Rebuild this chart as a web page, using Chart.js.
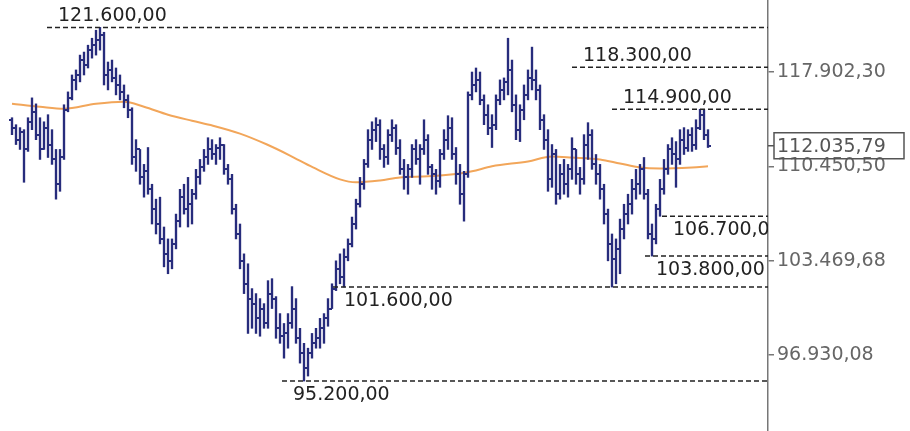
<!DOCTYPE html>
<html>
<head>
<meta charset="utf-8">
<script src="https://cdn.jsdelivr.net/npm/chart.js@4.4.1/dist/chart.umd.min.js"></script>
<style>
  html, body { margin: 0; padding: 0; background: #fff; }
  #wrap { width: 910px; height: 431px; }
</style>
</head>
<body>
<div id="wrap"><canvas id="chart"></canvas></div>
<script>
// Datos OHLC (una barra por sesión)
const opens = [
  114070, 113450, 112510, 113130, 111750, 113910, 114700, 112900, 111750, 113450,
  112130, 110980, 109090, 111130, 114860, 115810, 117260, 117660, 118880, 118470,
  119700, 120110, 120530, 120940, 117660, 118070, 117420, 116850, 116290, 115650,
  114860, 111130, 111750, 109610, 110070, 108710, 107230, 106130, 105040, 103960,
  103460, 104680, 106340, 108120, 107230, 107590, 108340, 109610, 110370, 111130,
  111750, 111360, 111900, 112130, 110220, 109460, 107230, 105400, 103460, 101830,
  100790, 100440, 99420, 100100, 99070, 101140, 100790, 98740, 98200, 98390,
  99070, 100100, 98060, 97050, 96060, 97050, 97720, 98060, 98740, 99420,
  100100, 101490, 102890, 102330, 103740, 104680, 106130, 107590, 109090, 110600,
  112510, 113290, 113680, 111750, 111130, 112900, 113450, 111900, 110220, 109610,
  110220, 111750, 110980, 111750, 112510, 110370, 109840, 109310, 111360, 112510,
  113450, 111360, 109840, 108340, 109840, 116050, 116850, 117260, 115650, 114470,
  113450, 113680, 115650, 116450, 117100, 118070, 115260, 113290, 114860, 116050,
  117420, 117260, 116450, 114070, 112510, 109460, 111360, 108340, 109840, 109090,
  110220, 111750, 109840, 109460, 112130, 112900, 110600, 109840, 108710, 106860,
  104680, 103600, 104320, 105760, 106860, 107590, 108710, 109090, 110220, 108340,
  105400, 105040, 107230, 108710, 110220, 111750, 111360, 110980, 112510, 111900,
  112900, 112130, 113450, 114470, 112900
];
const highs = [
  114230, 113680, 113450, 113290, 114230, 115810, 115330, 114230, 113910, 114470,
  113290, 111750, 111750, 115260, 116290, 117660, 118070, 119290, 119540, 120110,
  120690, 121360, 121600, 121190, 118720, 118880, 118230, 117660, 116850, 116050,
  115020, 112510, 111750, 110600, 111900, 109090, 107970, 108120, 105910, 105040,
  105040, 106860, 108710, 109090, 109610, 108710, 110220, 110980, 111750, 112660,
  112510, 112130, 112660, 112130, 110600, 109840, 107590, 106130, 103960, 103250,
  101490, 101140, 100790, 100440, 102050, 102190, 100930, 99750, 99070, 99750,
  101630, 100790, 98740, 97720, 97390, 98390, 98740, 99420, 99750, 100790,
  101830, 103460, 103960, 104320, 105040, 106640, 107970, 109610, 110980, 113290,
  113910, 114230, 114070, 112130, 113290, 114070, 113680, 112510, 110980, 110600,
  112130, 112510, 112130, 114070, 112900, 110600, 110220, 111750, 113290, 114390,
  114230, 111900, 110600, 110070, 116290, 117900, 118230, 117900, 116050, 115260,
  114470, 116050, 117260, 117420, 120690, 118880, 116050, 115260, 116850, 118070,
  119950, 118070, 116850, 114470, 113290, 112130, 111750, 110600, 110980, 110600,
  112660, 111750, 110370, 112900, 113840, 113290, 111360, 110600, 109090, 107230,
  105400, 105040, 106490, 107590, 108340, 109460, 110220, 110600, 111130, 108710,
  106130, 107590, 109460, 110980, 112130, 112660, 112360, 113290, 113450, 113290,
  113450, 114070, 114900, 114860, 113290
];
const lows = [
  112900, 112130, 111750, 109240, 111600, 113290, 112510, 110980, 111750, 111130,
  110600, 107970, 108560, 110980, 114700, 115650, 116450, 117100, 117660, 118230,
  119040, 119290, 119700, 116850, 116450, 117100, 116050, 115650, 115020, 114230,
  110600, 110070, 109090, 108120, 108340, 106130, 105400, 104680, 103030, 102540,
  102890, 104320, 105910, 106860, 105910, 106130, 107970, 109090, 110070, 110600,
  110980, 110600, 110980, 109840, 109090, 106860, 105040, 102890, 101140, 98390,
  98740, 98390, 98200, 98740, 98740, 100100, 98060, 97720, 96720, 97390,
  98740, 97720, 96390, 95200, 95530, 96720, 97390, 97390, 97720, 98880,
  100100, 101350, 101830, 101600, 103460, 104460, 105760, 107380, 108710, 110370,
  111750, 112360, 110980, 110370, 110600, 112360, 111360, 109840, 108710, 108340,
  109610, 110600, 109090, 111360, 109840, 108710, 108340, 108860, 110980, 111750,
  110980, 109090, 107590, 106340, 109610, 115650, 116290, 115260, 113680, 112900,
  111900, 113290, 115260, 115650, 116050, 114700, 112510, 112360, 114070, 115650,
  116450, 115650, 113290, 111750, 108560, 108860, 107590, 107970, 108340, 108120,
  109460, 109090, 108340, 109090, 110980, 110220, 109090, 107970, 106130, 103460,
  101600, 101830, 102540, 105040, 106130, 106860, 107970, 108340, 107970, 105040,
  103800, 104680, 106700, 108340, 109840, 110600, 108860, 110600, 111360, 111600,
  111600, 111750, 113290, 112510, 111900
];
const closes = [
  113450, 112510, 113130, 111750, 113910, 114700, 112900, 111750, 113450, 112130,
  110980, 109090, 111130, 114860, 115810, 117260, 117660, 118880, 118470, 119700,
  120110, 120530, 120940, 117660, 118070, 117420, 116850, 116290, 115650, 114860,
  111130, 111750, 109610, 110070, 108710, 107230, 106130, 105040, 103960, 103460,
  104680, 106340, 108120, 107230, 107590, 108340, 109610, 110370, 111130, 111750,
  111360, 111900, 112130, 110220, 109460, 107230, 105400, 103460, 101830, 100790,
  100440, 99420, 100100, 99070, 101140, 100790, 98740, 98200, 98390, 99070,
  100100, 98060, 97050, 96060, 97050, 97720, 98060, 98740, 99420, 100100,
  101490, 102890, 102330, 103740, 104680, 106130, 107590, 109090, 110600, 112510,
  113290, 113680, 111750, 111130, 112900, 113450, 111900, 110220, 109610, 110220,
  111750, 110980, 111750, 112510, 110370, 109840, 109310, 111360, 112510, 113450,
  111360, 109840, 108340, 109840, 116050, 116850, 117260, 115650, 114470, 113450,
  113680, 115650, 116450, 117100, 118070, 115260, 113290, 114860, 116050, 117420,
  117260, 116450, 114070, 112510, 109460, 111360, 108340, 109840, 109090, 110220,
  111750, 109840, 109460, 112130, 112900, 110600, 109840, 108710, 106860, 104680,
  103600, 104320, 105760, 106860, 107590, 108710, 109090, 110220, 108340, 105400,
  105040, 107230, 108710, 110220, 111750, 111360, 110980, 112510, 111900, 112900,
  112130, 113450, 114470, 112900, 112035.79
];

// Media móvil (barra, valor)
const maIndex = [0, 7, 13, 21, 28, 33, 39, 45, 50.25, 57, 63.75, 69.5, 75.25, 82,
  86, 92, 97, 104, 112, 115, 120, 129, 135, 140, 147, 152, 157, 162, 170, 174];
const maValue = [115340, 115100, 114940, 115340, 115500, 115100, 114470, 113990,
  113600, 112980, 112130, 111280, 110370, 109460, 109240, 109380, 109610, 109690,
  109910, 110070, 110450, 110830, 111210, 111130, 110980, 110670, 110370, 110290,
  110370, 110450];

// Soportes / resistencias y barra donde empiezan
const levels = [121600, 118300, 114900, 106700, 103800, 101600, 95200];
const levelFrom = [8.75, 140, 150, 162.5, 158.25, 80.25, 67.5];

// Marcas del eje de precios
const tickValues = [96930.08, 103469.68, 110450.50, 117902.30];

/* ============================
        CONFIGURACIÓN
============================ */
const NAVY = '#272c7c';
const ORANGE = '#f2a65a';
const FONT = '19px "DejaVu Sans"';
const Y_MIN = 91966;
const Y_MAX = 123926;
const X_MIN = -3;
const X_MAX = 189;
const lastClose = closes[closes.length - 1];

function fmt(v) {
  const [ent, dec] = Number(v).toFixed(2).split('.');
  return ent.replace(/\B(?=(\d{3})+(?!\d))/g, '.') + ',' + dec;
}

// Marca horizontal de apertura (izquierda) o cierre (derecha)
function tickImage(side) {
  const c = document.createElement('canvas');
  c.width = 6;
  c.height = 2;
  const g = c.getContext('2d');
  g.fillStyle = NAVY;
  g.fillRect(side === 'left' ? 0 : 3, 0, 3, 2);
  return c;
}

const levelLabels = {
  id: 'levelLabels',
  afterDatasetsDraw(chart) {
    const { ctx, chartArea, scales: { x, y } } = chart;
    ctx.save();
    ctx.beginPath();
    ctx.rect(chartArea.left, chartArea.top, chartArea.width, chartArea.height);
    ctx.clip();
    ctx.font = FONT;
    ctx.fillStyle = '#222';
    ctx.textBaseline = 'middle';
    levels.forEach((v, k) => {
      const px = x.getPixelForValue(levelFrom[k]) + 11;
      const py = y.getPixelForValue(v) + (v > lastClose ? -11 : 14);
      ctx.fillText(fmt(v), px, py);
    });
    ctx.restore();
  }
};

const lastPrice = {
  id: 'lastPrice',
  afterDraw(chart) {
    const { ctx, chartArea, scales: { y } } = chart;
    const py = y.getPixelForValue(lastClose);
    const left = chartArea.right;
    ctx.save();
    ctx.strokeStyle = '#555';
    ctx.lineWidth = 1.5;
    ctx.beginPath();
    ctx.moveTo(left, py);
    ctx.lineTo(left + 6, py);
    ctx.stroke();
    ctx.strokeRect(left + 6, py - 13, 130, 26);
    ctx.fillStyle = '#555';
    ctx.font = FONT;
    ctx.textBaseline = 'middle';
    ctx.fillText(fmt(lastClose), left + 9, py + 1);
    ctx.restore();
  }
};

const datasets = [
  {
    type: 'line',
    data: maIndex.map((x, i) => ({ x, y: maValue[i] })),
    borderColor: ORANGE,
    borderWidth: 2,
    pointRadius: 0,
    cubicInterpolationMode: 'monotone',
    order: 5
  },
  {
    type: 'bar',
    data: highs.map((h, i) => ({ x: i, y: [lows[i], h] })),
    backgroundColor: NAVY,
    barThickness: 1.7,
    order: 2
  },
  {
    type: 'line',
    data: opens.map((v, i) => ({ x: i, y: v })),
    showLine: false,
    pointStyle: tickImage('left'),
    pointRadius: 1,
    order: 1
  },
  {
    type: 'line',
    data: closes.map((v, i) => ({ x: i, y: v })),
    showLine: false,
    pointStyle: tickImage('right'),
    pointRadius: 1,
    order: 1
  },
  ...levels.map((v, k) => ({
    type: 'line',
    data: [{ x: levelFrom[k], y: v }, { x: X_MAX, y: v }],
    borderColor: '#222',
    borderWidth: 1.5,
    borderDash: [5, 3],
    pointRadius: 0,
    order: 0
  }))
];

Chart.defaults.font.family = '"DejaVu Sans"';

new Chart(document.getElementById('chart'), {
  type: 'bar',
  data: { datasets },
  options: {
    responsive: true,
    maintainAspectRatio: false,
    animation: false,
    events: [],
    layout: { padding: 0, autoPadding: false },
    plugins: {
      legend: { display: false },
      tooltip: { enabled: false }
    },
    scales: {
      x: { type: 'linear', min: X_MIN, max: X_MAX, display: false, offset: false },
      y: {
        type: 'logarithmic',
        position: 'right',
        min: Y_MIN,
        max: Y_MAX,
        afterBuildTicks: s => { s.ticks = tickValues.map(v => ({ value: v })); },
        afterFit: s => { s.width = 142; s.paddingTop = 0; s.paddingBottom = 0; },
        ticks: {
          callback: v => fmt(v),
          color: '#666',
          font: { size: 19 },
          padding: 3,
          autoSkip: false
        },
        grid: { drawOnChartArea: false, drawTicks: true, tickLength: 6, color: '#777', lineWidth: 1.5 },
        border: { display: true, color: '#777', width: 1.5 }
      }
    }
  },
  plugins: [levelLabels, lastPrice]
});
</script>
</body>
</html>
